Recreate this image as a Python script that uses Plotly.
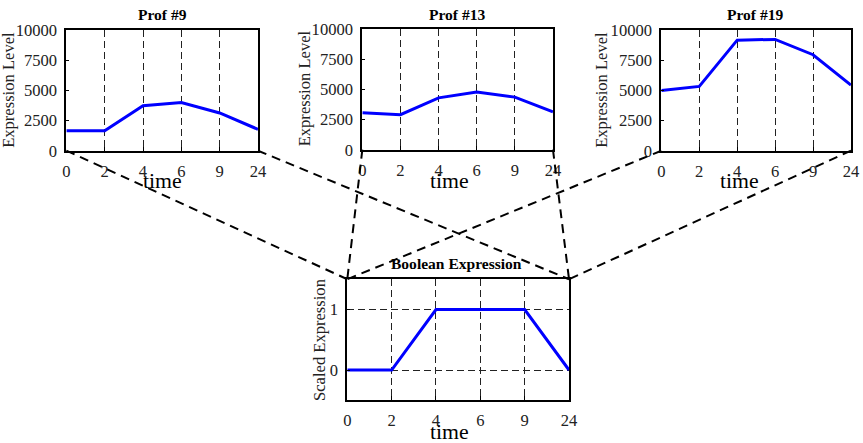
import plotly.graph_objects as go

# Reference canvas (all positions below are given in reference pixels)
REF_W, REF_H = 863, 443
# The captured page includes an 8px body margin around the figure and is scaled
# back to the reference size, so map reference pixels into figure pixels.
OFF = 8
SX = (REF_W + 2 * OFF) / REF_W
SY = (REF_H + 2 * OFF) / REF_H
FW, FH = REF_W + OFF, REF_H + OFF

# ---- data ----
time_labels = ["0", "2", "4", "6", "9", "24"]
prof9 = [1650, 1650, 3730, 4000, 3130, 1770]
prof13 = [3070, 2900, 4300, 4790, 4360, 3150]
prof19 = [5000, 5330, 9170, 9230, 7960, 5440]
boolean_expr = [0, 0, 1, 1, 1, 0]
top_titles = ["Prof #9", "Prof #13", "Prof #19"]
bottom_title = "Boolean Expression"
expr_ticks = [0, 2500, 5000, 7500, 10000]
expr_labels = ["0", "2500", "5000", "7500", "10000"]
bool_ticks = [0, 1]
bool_labels = ["0", "1"]

# ---- layout in reference pixels (left, right, top, bottom) ----
boxes = [
    (70, 261, 29, 150.5),
    (365, 555, 28, 149.5),
    (663, 852, 29, 150.5),
    (350, 571, 280, 402),
]
title_pos = [(166, 13.5), (459.5, 13.5), (756, 13.5), (459, 264.5)]
time_pos = [(166, 181.5), (452, 181.5), (741, 181.5), (452, 433.5)]
ylab_pos = [(13, 89), (307.5, 88), (604, 89), (323, 341)]

FONT = "Liberation Serif"
BLUE = "#0000FF"
FS = SY  # font compensation


def px(x):
    return (x * SX - OFF) / FW


def py(y):
    return 1 - (y * SY - OFF) / FH


fig = go.Figure()
xpos = list(range(len(time_labels)))
series = [prof9, prof13, prof19, boolean_expr]

for i, (vals, box) in enumerate(zip(series, boxes)):
    k = "" if i == 0 else str(i + 1)
    fig.add_trace(go.Scatter(x=xpos, y=vals, mode="lines",
                             line=dict(color=BLUE, width=3),
                             xaxis="x" + k, yaxis="y" + k, showlegend=False,
                             cliponaxis=False))
    l, r, t, b = box
    xa = dict(domain=[px(l), px(r)], anchor="y" + k, range=[0, 5],
              tickvals=xpos, ticktext=time_labels, showgrid=True,
              gridcolor="#222", griddash="7px,4px", gridwidth=1,
              showline=True, mirror=True, linecolor="black", linewidth=2,
              zeroline=False, ticks="inside", ticklen=4, tickwidth=1,
              tickcolor="black", ticklabelstandoff=4,
              tickfont=dict(family=FONT, size=16 * FS, color="#222"), fixedrange=True)
    if i < 3:
        ya = dict(domain=[py(b), py(t)], anchor="x" + k, range=[0, 10000],
                  tickvals=expr_ticks, ticktext=expr_labels, showgrid=False)
    else:
        ya = dict(domain=[py(b), py(t)], anchor="x" + k, range=[-0.5, 1.5],
                  tickvals=bool_ticks, ticktext=bool_labels, showgrid=True,
                  gridcolor="#222", griddash="7px,4px", gridwidth=1)
    ya.update(showline=True, mirror=True, linecolor="black", linewidth=2,
              zeroline=False, ticks="inside", ticklen=3, tickwidth=1,
              tickcolor="black", ticklabelstandoff=4,
              tickfont=dict(family=FONT, size=16 * FS, color="#222"), fixedrange=True)
    fig.layout["xaxis" + k] = xa
    fig.layout["yaxis" + k] = ya

annotations = []
titles = top_titles + [bottom_title]
ylab_text = ["Expression Level"] * 3 + ["Scaled Expression"]
for i in range(4):
    annotations.append(dict(text="<b>" + titles[i] + "</b>",
                            x=px(title_pos[i][0]), y=py(title_pos[i][1]),
                            xref="paper", yref="paper", showarrow=False,
                            xanchor="center", yanchor="middle",
                            font=dict(family=FONT, size=15 * FS, color="black")))
    annotations.append(dict(text="time", x=px(time_pos[i][0]), y=py(time_pos[i][1]),
                            xref="paper", yref="paper", showarrow=False,
                            xanchor="center", yanchor="middle",
                            font=dict(family=FONT, size=21 * FS, color="black")))
    annotations.append(dict(text=ylab_text[i], x=px(ylab_pos[i][0]), y=py(ylab_pos[i][1]),
                            xref="paper", yref="paper", showarrow=False, textangle=-90,
                            xanchor="center", yanchor="middle",
                            font=dict(family=FONT, size=16 * FS, color="#222")))

# connecting dashed lines: bottom corners of each top panel -> top corners of bottom panel
bl, br, bt, bb = boxes[3]
shapes = []
for (l, r, t, b) in boxes[:3]:
    shapes.append(dict(type="line", xref="paper", yref="paper",
                       x0=px(l), y0=py(b), x1=px(bl), y1=py(bt),
                       line=dict(color="black", width=2, dash="9px,6px"), layer="above"))
    shapes.append(dict(type="line", xref="paper", yref="paper",
                       x0=px(r), y0=py(b), x1=px(br), y1=py(bt),
                       line=dict(color="black", width=2, dash="9px,6px"), layer="above"))

fig.update_layout(width=FW, height=FH, margin=dict(l=0, r=0, t=0, b=0),
                  paper_bgcolor="white", plot_bgcolor="white",
                  annotations=annotations, shapes=shapes, showlegend=False)

fig.write_html("out.html")
